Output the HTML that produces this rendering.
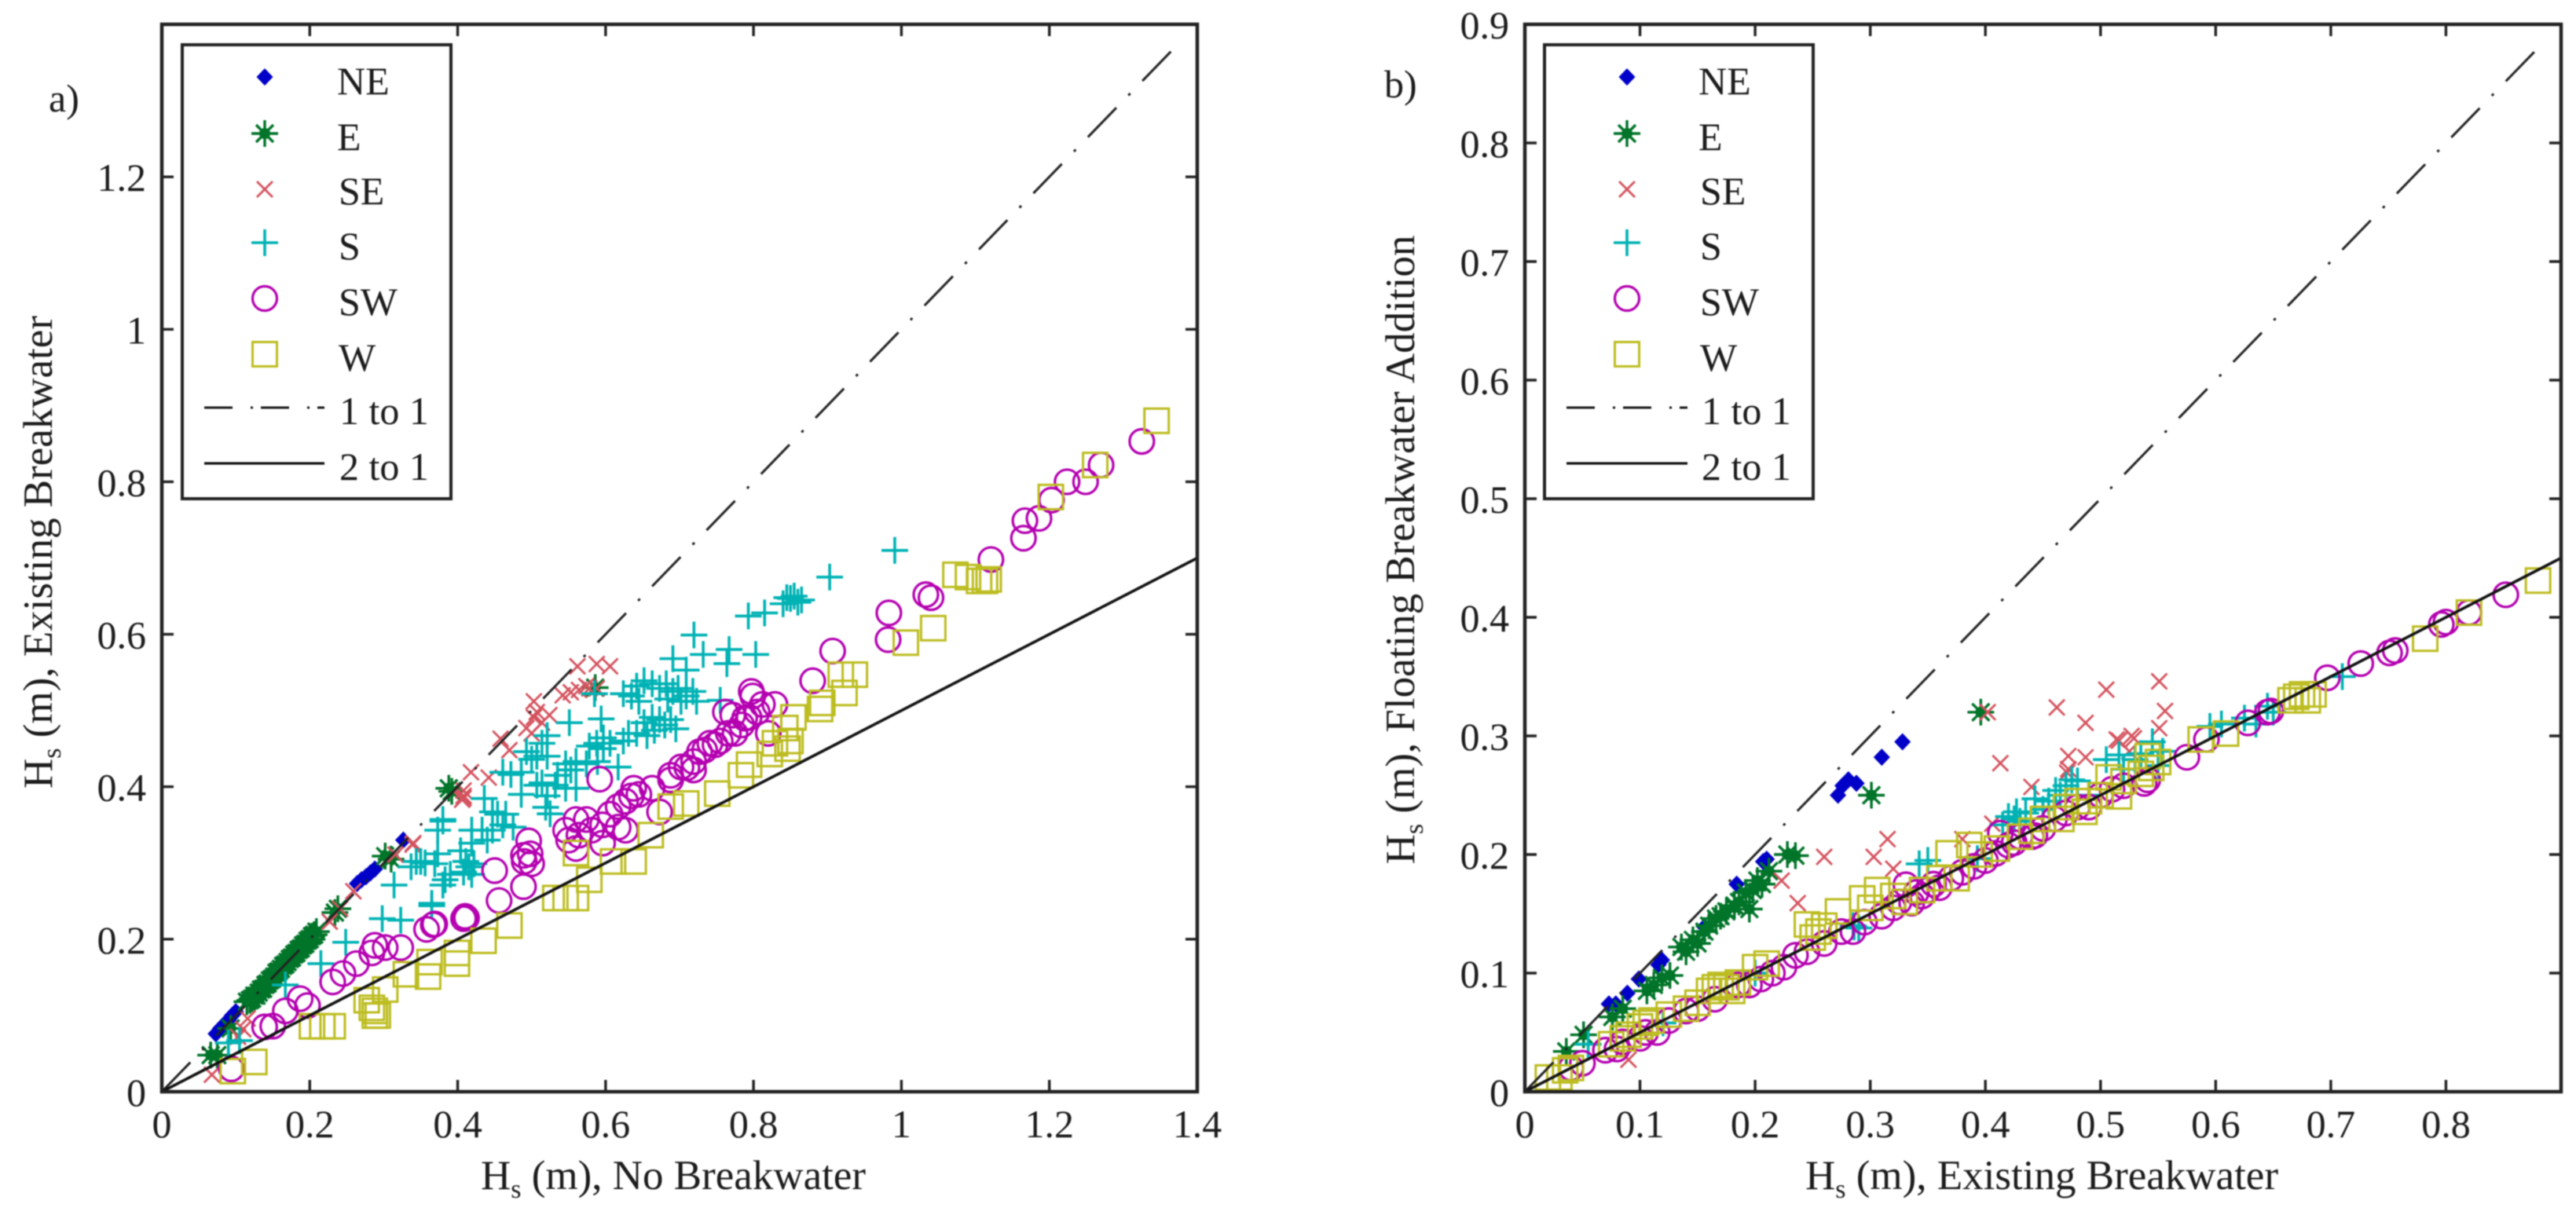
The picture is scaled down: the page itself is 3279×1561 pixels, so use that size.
<!DOCTYPE html>
<html lang="en">
<head>
<meta charset="utf-8">
<title>Significant wave height scatter comparison</title>
<style>
html,body{margin:0;padding:0;background:#fff;width:3279px;height:1561px;overflow:hidden}
svg{display:block;filter:blur(0.9px)}
text{font-family:"Liberation Serif",serif;fill:#1c1c1c}
.tick{font-size:50px}
.title{font-size:53px}
.leg{font-size:50px}
.sub{font-size:34px}
</style>
</head>
<body>
<svg id="chart" width="3279" height="1561" viewBox="0 0 3279 1561" xmlns="http://www.w3.org/2000/svg">
  <rect width="3279" height="1561" fill="#fff"/>

  <g id="panelA"></g>
  <g id="panelB"></g>

  <text class="leg" x="62" y="142">a)</text>
  <text class="leg" x="1762" y="124">b)</text>

  <text class="title" x="857" y="1514" text-anchor="middle">H<tspan class="sub" dy="11">s</tspan><tspan dy="-11"> (m), No Breakwater</tspan></text>
  <text class="title" transform="translate(66,703) rotate(-90)" text-anchor="middle">H<tspan class="sub" dy="11">s</tspan><tspan dy="-11"> (m), Existing Breakwater</tspan></text>
  <text class="title" x="2599" y="1514" text-anchor="middle">H<tspan class="sub" dy="11">s</tspan><tspan dy="-11"> (m), Existing Breakwater</tspan></text>
  <text class="title" transform="translate(1800,700) rotate(-90)" text-anchor="middle">H<tspan class="sub" dy="11">s</tspan><tspan dy="-11"> (m), Floating Breakwater Addition</tspan></text>

  <g id="legendA">
    <rect x="232" y="57" width="342" height="578" fill="#fff" stroke="#222" stroke-width="4"/>
    <text class="leg" x="429" y="120">NE</text>
    <text class="leg" x="429" y="191">E</text>
    <text class="leg" x="431" y="260">SE</text>
    <text class="leg" x="431" y="330">S</text>
    <text class="leg" x="431" y="401">SW</text>
    <text class="leg" x="431" y="472">W</text>
    <text class="leg" x="432" y="540" xml:space="preserve">1 to 1</text>
    <text class="leg" x="432" y="611" xml:space="preserve">2 to 1</text>
  </g>
  <g id="legendB">
    <rect x="1966" y="57" width="342" height="578" fill="#fff" stroke="#222" stroke-width="4"/>
    <text class="leg" x="2162" y="120">NE</text>
    <text class="leg" x="2162" y="191">E</text>
    <text class="leg" x="2164" y="260">SE</text>
    <text class="leg" x="2164" y="330">S</text>
    <text class="leg" x="2164" y="401">SW</text>
    <text class="leg" x="2164" y="472">W</text>
    <text class="leg" x="2166" y="540" xml:space="preserve">1 to 1</text>
    <text class="leg" x="2166" y="611" xml:space="preserve">2 to 1</text>
  </g>
</svg>
<script>
/* ---------- shared tick labels ---------- */
const aXTicks = ["0","0.2","0.4","0.6","0.8","1","1.2","1.4"];
const aYTicks = ["0","0.2","0.4","0.6","0.8","1","1.2"];
const aYTickExtra = [1.4];
const bXTicks = ["0","0.1","0.2","0.3","0.4","0.5","0.6","0.7","0.8"];
const bYTicks = ["0","0.1","0.2","0.3","0.4","0.5","0.6","0.7","0.8","0.9"];

/* ---------- panel a series: [Hs no breakwater, Hs existing] ---------- */
const aNE = [[0.073,0.076],[0.079,0.083],[0.085,0.089],[0.09,0.094],[0.095,0.1],[0.1,0.105],[0.264,0.273],[0.27,0.278],[0.276,0.282],[0.282,0.287],[0.288,0.292],[0.3265,0.33]];
const aE = [[0.066,0.048],[0.075,0.048],[0.093,0.083],[0.115,0.118],[0.119,0.12],[0.122,0.122],[0.125,0.126],[0.128,0.126],[0.131,0.13],[0.134,0.134],[0.137,0.135],[0.14,0.14],[0.143,0.142],[0.146,0.146],[0.149,0.148],[0.152,0.151],[0.155,0.156],[0.158,0.158],[0.161,0.161],[0.164,0.165],[0.167,0.167],[0.17,0.17],[0.173,0.174],[0.176,0.176],[0.179,0.18],[0.182,0.182],[0.185,0.186],[0.188,0.188],[0.191,0.192],[0.194,0.194],[0.197,0.198],[0.2,0.2],[0.203,0.204],[0.206,0.206],[0.209,0.21],[0.234,0.235],[0.238,0.24],[0.302,0.309],[0.31,0.305],[0.388,0.398],[0.392,0.394],[0.586,0.53]];
const aSE = [[0.0677,0.0223],[0.103,0.072],[0.11,0.082],[0.116,0.096],[0.227,0.223],[0.241,0.24],[0.259,0.263],[0.316,0.311],[0.339,0.324],[0.34,0.326],[0.406,0.383],[0.408,0.385],[0.408,0.388],[0.408,0.395],[0.418,0.419],[0.442,0.412],[0.458,0.463],[0.47,0.448],[0.493,0.477],[0.5,0.47],[0.503,0.491],[0.503,0.512],[0.507,0.498],[0.514,0.484],[0.524,0.494],[0.542,0.52],[0.553,0.524],[0.562,0.558],[0.564,0.527],[0.574,0.532],[0.578,0.529],[0.588,0.529],[0.588,0.561],[0.606,0.558]];
const aS = [[0.09,0.064],[0.105,0.067],[0.167,0.14],[0.215,0.168],[0.2486,0.196],[0.298,0.227],[0.323,0.225],[0.314,0.271],[0.337,0.295],[0.344,0.302],[0.35,0.302],[0.356,0.3],[0.365,0.244],[0.365,0.247],[0.369,0.299],[0.373,0.312],[0.373,0.343],[0.38,0.271],[0.38,0.355],[0.38,0.357],[0.39,0.285],[0.383,0.278],[0.408,0.288],[0.419,0.285],[0.404,0.316],[0.411,0.302],[0.415,0.295],[0.419,0.326],[0.419,0.343],[0.422,0.299],[0.433,0.343],[0.436,0.3846],[0.44,0.33],[0.447,0.343],[0.447,0.367],[0.454,0.364],[0.461,0.35],[0.461,0.419],[0.465,0.364],[0.472,0.416],[0.475,0.347],[0.486,0.419],[0.486,0.39],[0.493,0.446],[0.5,0.436],[0.507,0.44],[0.514,0.457],[0.521,0.467],[0.521,0.44],[0.507,0.402],[0.514,0.405],[0.521,0.388],[0.519,0.373],[0.525,0.3645],[0.532,0.402],[0.535,0.415],[0.546,0.398],[0.546,0.43],[0.553,0.422],[0.56,0.433],[0.56,0.398],[0.551,0.484],[0.574,0.43],[0.578,0.4533],[0.585,0.522],[0.588,0.457],[0.589,0.433],[0.594,0.489],[0.597,0.464],[0.597,0.45],[0.606,0.457],[0.617,0.4258],[0.624,0.46],[0.624,0.522],[0.631,0.47],[0.635,0.519],[0.642,0.532],[0.642,0.47],[0.645,0.512],[0.652,0.539],[0.652,0.484],[0.656,0.467],[0.663,0.535],[0.663,0.491],[0.666,0.474],[0.673,0.529],[0.673,0.488],[0.68,0.481],[0.682,0.535],[0.684,0.515],[0.688,0.488],[0.691,0.525],[0.691,0.568],[0.695,0.476],[0.698,0.529],[0.702,0.512],[0.709,0.519],[0.709,0.553],[0.718,0.525],[0.7195,0.599],[0.723,0.512],[0.732,0.5735],[0.755,0.5134],[0.764,0.5615],[0.767,0.58],[0.803,0.5735],[0.793,0.624],[0.815,0.628],[0.84,0.64],[0.845,0.648],[0.85,0.647],[0.855,0.65],[0.86,0.642],[0.865,0.645],[0.903,0.675],[0.991,0.71]];
const aSW = [[0.094,0.03],[0.139,0.085],[0.15,0.086],[0.167,0.106],[0.187,0.122],[0.197,0.113],[0.231,0.144],[0.245,0.155],[0.263,0.168],[0.284,0.182],[0.288,0.192],[0.302,0.189],[0.323,0.189],[0.358,0.213],[0.367,0.219],[0.369,0.22],[0.408,0.227],[0.41,0.23],[0.412,0.228],[0.45,0.29],[0.456,0.2508],[0.489,0.269],[0.489,0.31],[0.49,0.302],[0.496,0.329],[0.498,0.312],[0.5,0.299],[0.546,0.343],[0.55,0.33],[0.56,0.357],[0.56,0.319],[0.564,0.3365],[0.574,0.357],[0.581,0.343],[0.592,0.41],[0.596,0.35],[0.596,0.326],[0.606,0.364],[0.617,0.374],[0.617,0.347],[0.627,0.381],[0.627,0.343],[0.635,0.388],[0.638,0.398],[0.645,0.39],[0.663,0.398],[0.673,0.367],[0.688,0.415],[0.688,0.409],[0.702,0.426],[0.71,0.425],[0.719,0.433],[0.719,0.422],[0.727,0.446],[0.734,0.448],[0.741,0.457],[0.748,0.455],[0.755,0.46],[0.762,0.498],[0.766,0.47],[0.772,0.494],[0.775,0.47],[0.784,0.481],[0.788,0.49],[0.794,0.491],[0.797,0.525],[0.799,0.519],[0.805,0.498],[0.812,0.508],[0.829,0.508],[0.82,0.47],[0.88,0.539],[0.907,0.578],[0.982,0.593],[0.983,0.628],[1.033,0.652],[1.04,0.648],[1.121,0.698],[1.165,0.726],[1.167,0.749],[1.186,0.752],[1.203,0.776],[1.224,0.8],[1.249,0.8],[1.27,0.822],[1.325,0.853]];
const aW = [[0.096,0.027],[0.125,0.039],[0.203,0.0858],[0.217,0.0858],[0.231,0.0858],[0.277,0.12],[0.284,0.11],[0.288,0.106],[0.288,0.0997],[0.292,0.1],[0.302,0.134],[0.33,0.154],[0.36,0.151],[0.362,0.17],[0.399,0.168],[0.399,0.182],[0.435,0.198],[0.47,0.218],[0.532,0.254],[0.546,0.254],[0.56,0.254],[0.56,0.313],[0.578,0.278],[0.61,0.302],[0.638,0.302],[0.661,0.3365],[0.688,0.374],[0.709,0.378],[0.751,0.391],[0.783,0.415],[0.794,0.429],[0.822,0.443],[0.829,0.457],[0.843,0.477],[0.846,0.45],[0.85,0.46],[0.854,0.491],[0.89,0.502],[0.893,0.51],[0.918,0.547],[0.937,0.547],[0.923,0.523],[1.006,0.589],[1.043,0.608],[1.073,0.678],[1.09,0.675],[1.105,0.67],[1.113,0.67],[1.118,0.672],[1.202,0.78],[1.262,0.822],[1.345,0.88]];

/* ---------- panel b series: [Hs existing, Hs floating addition] ---------- */
const bNE = [[0.073,0.074],[0.079,0.074],[0.089,0.083],[0.099,0.095],[0.116,0.107],[0.119,0.111],[0.156,0.139],[0.184,0.175],[0.207,0.194],[0.21,0.196],[0.272,0.25],[0.276,0.258],[0.281,0.263],[0.288,0.26],[0.31,0.282],[0.328,0.295]];
const bE = [[0.036,0.034],[0.051,0.048],[0.076,0.063],[0.085,0.07],[0.106,0.085],[0.112,0.09],[0.119,0.096],[0.126,0.098],[0.136,0.122],[0.14,0.118],[0.146,0.128],[0.15,0.125],[0.156,0.135],[0.16,0.14],[0.166,0.146],[0.17,0.148],[0.175,0.152],[0.182,0.157],[0.186,0.16],[0.195,0.154],[0.192,0.168],[0.198,0.17],[0.202,0.178],[0.206,0.175],[0.212,0.186],[0.228,0.2],[0.235,0.199],[0.301,0.25],[0.396,0.32]];
const bSE = [[0.09,0.027],[0.223,0.178],[0.237,0.159],[0.26,0.198],[0.303,0.198],[0.315,0.213],[0.32,0.188],[0.38,0.213],[0.402,0.32],[0.406,0.226],[0.413,0.277],[0.44,0.257],[0.462,0.324],[0.471,0.269],[0.472,0.272],[0.472,0.283],[0.487,0.311],[0.487,0.282],[0.505,0.339],[0.514,0.297],[0.516,0.296],[0.525,0.287],[0.527,0.3],[0.529,0.298],[0.551,0.346],[0.556,0.321],[0.551,0.3065]];
const bS = [[0.055,0.04],[0.12,0.058],[0.2,0.1],[0.285,0.14],[0.286,0.139],[0.29,0.138],[0.3425,0.1921],[0.35,0.195],[0.393,0.1965],[0.415,0.225],[0.42,0.232],[0.425,0.23],[0.427,0.236],[0.43,0.228],[0.435,0.235],[0.443,0.247],[0.45,0.238],[0.455,0.245],[0.461,0.254],[0.465,0.25],[0.47,0.258],[0.475,0.263],[0.48,0.262],[0.49,0.25],[0.505,0.28],[0.516,0.284],[0.52,0.272],[0.53,0.28],[0.535,0.285],[0.545,0.295],[0.554,0.287],[0.55,0.275],[0.595,0.308],[0.605,0.31],[0.625,0.315],[0.635,0.31],[0.645,0.325],[0.65,0.32],[0.71,0.35]];
const bSW = [[0.04,0.02],[0.05,0.024],[0.07,0.035],[0.08,0.036],[0.085,0.042],[0.1,0.045],[0.105,0.05],[0.115,0.05],[0.125,0.06],[0.14,0.068],[0.15,0.07],[0.165,0.078],[0.185,0.09],[0.195,0.09],[0.205,0.095],[0.215,0.1],[0.225,0.105],[0.235,0.115],[0.245,0.118],[0.26,0.125],[0.275,0.135],[0.285,0.135],[0.295,0.143],[0.31,0.148],[0.32,0.155],[0.325,0.16],[0.331,0.1745],[0.336,0.159],[0.34,0.168],[0.345,0.165],[0.35,0.17],[0.355,0.175],[0.36,0.172],[0.37,0.18],[0.38,0.185],[0.39,0.19],[0.4,0.195],[0.409,0.201],[0.413,0.218],[0.42,0.208],[0.425,0.21],[0.43,0.215],[0.44,0.215],[0.443,0.216],[0.45,0.222],[0.46,0.23],[0.47,0.235],[0.48,0.24],[0.49,0.24],[0.5,0.25],[0.51,0.255],[0.52,0.258],[0.538,0.26],[0.541,0.263],[0.575,0.282],[0.592,0.297],[0.628,0.311],[0.645,0.32],[0.648,0.321],[0.697,0.349],[0.726,0.361],[0.751,0.37],[0.756,0.372],[0.796,0.394],[0.8,0.396],[0.82,0.404],[0.852,0.419]];
const bW = [[0.02,0.012],[0.03,0.012],[0.035,0.018],[0.04,0.02],[0.075,0.04],[0.085,0.045],[0.09,0.048],[0.1,0.055],[0.105,0.058],[0.11,0.06],[0.125,0.065],[0.14,0.07],[0.15,0.075],[0.16,0.085],[0.165,0.088],[0.17,0.09],[0.175,0.088],[0.18,0.085],[0.185,0.092],[0.2,0.105],[0.21,0.108],[0.245,0.141],[0.25,0.13],[0.255,0.135],[0.26,0.14],[0.272,0.152],[0.293,0.163],[0.3,0.155],[0.306,0.17],[0.32,0.165],[0.33,0.16],[0.345,0.17],[0.36,0.18],[0.368,0.201],[0.375,0.18],[0.386,0.208],[0.395,0.2],[0.41,0.205],[0.43,0.215],[0.44,0.22],[0.45,0.23],[0.466,0.23],[0.47,0.24],[0.48,0.245],[0.486,0.236],[0.49,0.245],[0.5,0.25],[0.507,0.265],[0.516,0.249],[0.52,0.262],[0.535,0.268],[0.541,0.283],[0.544,0.273],[0.55,0.278],[0.587,0.297],[0.609,0.302],[0.665,0.33],[0.67,0.333],[0.675,0.335],[0.68,0.33],[0.685,0.335],[0.782,0.382],[0.82,0.404],[0.88,0.431]];

/* ---------- legend key values ---------- */
const legendKeys = ["NE","E","SE","S","SW","W"];

/* ---------- drawing helpers ---------- */
const NS = "http://www.w3.org/2000/svg";
const COLORS = {NE:"#0000c8",E:"#007428",SE:"#d4525e",S:"#00b2b4",SW:"#b400b0",W:"#bcbc20"};

function el(tag, attrs, parent){
  const e = document.createElementNS(NS, tag);
  for (const k in attrs) e.setAttribute(k, attrs[k]);
  parent.appendChild(e);
  return e;
}

function marker(kind, cx, cy, parent){
  const c = COLORS[kind];
  let m;
  if (kind === "NE"){
    m = el("path",{d:`M${cx} ${cy-11}L${cx+10.5} ${cy}L${cx} ${cy+11}L${cx-10.5} ${cy}Z`,fill:c},parent);
  } else if (kind === "E"){
    m = el("g",{},parent);
    el("path",{d:`M${cx-17} ${cy}H${cx+17}M${cx} ${cy-17}V${cy+17}M${cx-11} ${cy-11}L${cx+11} ${cy+11}M${cx-11} ${cy+11}L${cx+11} ${cy-11}`,stroke:c,"stroke-width":3.4,fill:"none"},m);
    el("circle",{cx:cx,cy:cy,r:7,fill:c},m);
  } else if (kind === "SE"){
    m = el("path",{d:`M${cx-10} ${cy-10}L${cx+10} ${cy+10}M${cx-10} ${cy+10}L${cx+10} ${cy-10}`,stroke:c,"stroke-width":2.8,fill:"none"},parent);
  } else if (kind === "S"){
    m = el("path",{d:`M${cx-17} ${cy}H${cx+17}M${cx} ${cy-17}V${cy+17}`,stroke:c,"stroke-width":3.6,fill:"none"},parent);
  } else if (kind === "SW"){
    m = el("circle",{cx:cx,cy:cy,r:15.5,stroke:c,"stroke-width":3.2,fill:"none"},parent);
  } else {
    m = el("rect",{x:cx-15.5,y:cy-15.5,width:31,height:31,stroke:c,"stroke-width":3,fill:"none"},parent);
  }
  return m;
}

function drawPanel(root, prefix, geom, xMax, yMax, xTicks, yTicks, extraY, series){
  const sx = v => geom.left + (v / xMax) * (geom.right - geom.left);
  const sy = v => geom.bottom - (v / yMax) * (geom.bottom - geom.top);

  const clipId = prefix + "-clip";
  const defs = el("defs",{},root);
  const cp = el("clipPath",{id:clipId},defs);
  el("rect",{x:geom.left,y:geom.top,width:geom.right-geom.left,height:geom.bottom-geom.top},cp);

  const plot = el("g",{"clip-path":`url(#${clipId})`},root);
  
  

  for (const kind of legendKeys){
    const g = el("g",{},plot);
    
    
    for (const p of series[kind]){
      const m = marker(kind, sx(p[0]), sy(p[1]), g);
      
      
    }
  }

  const lim = Math.min(xMax, yMax) * 0.985;
  const one = el("line",{x1:sx(0),y1:sy(0),x2:sx(lim),y2:sy(lim),stroke:"#222","stroke-width":3,"stroke-dasharray":"52 22 3.4 22.2"},plot);
  
  
  const two = el("line",{x1:sx(0),y1:sy(0),x2:sx(xMax),y2:sy(xMax/2),stroke:"#111","stroke-width":3.6},plot);
  
  

  const frame = el("rect",{x:geom.left,y:geom.top,width:geom.right-geom.left,height:geom.bottom-geom.top,fill:"none",stroke:"#222","stroke-width":4.5},root);
  
  

  const TL = 15;
  xTicks.forEach(label => {
    const v = parseFloat(label);
    const t = el("path",{d:`M${sx(v)} ${geom.bottom}v${-TL}M${sx(v)} ${geom.top}v${TL}`,stroke:"#222","stroke-width":3.4,fill:"none"},root);
    
    
    const tx = el("text",{x:sx(v),y:geom.bottom+58,"text-anchor":"middle",class:"tick"},root);
    
    
    tx.textContent = label;
  });
  yTicks.forEach(label => {
    const v = parseFloat(label);
    const t = el("path",{d:`M${geom.left} ${sy(v)}h${TL}M${geom.right} ${sy(v)}h${-TL}`,stroke:"#222","stroke-width":3.4,fill:"none"},root);
    
    
    const tx = el("text",{x:geom.left-20,y:sy(v)+18,"text-anchor":"end",class:"tick"},root);
    
    
    tx.textContent = label;
  });
  extraY.forEach(v => {
    const t = el("path",{d:`M${geom.left} ${sy(v)}h${TL}M${geom.right} ${sy(v)}h${-TL}`,stroke:"#222","stroke-width":3.4,fill:"none"},root);
    
    
  });
}

function drawLegendKeys(legend, markerX, lineX1, lineX2){
  const rowY = [98,170,241,309,380,451];
  legendKeys.forEach((kind,i) => {
    const m = marker(kind, markerX, rowY[i], legend);
    
    
  });
  const a = el("line",{x1:lineX1,y1:519,x2:lineX2,y2:519,stroke:"#1a1a1a","stroke-width":3,"stroke-dasharray":"36 23 3 10"},legend);
  
  
  const b = el("line",{x1:lineX1,y1:590,x2:lineX2,y2:590,stroke:"#111","stroke-width":3.2},legend);
  
  
}

drawPanel(document.getElementById("panelA"),"a",{left:206,right:1524,top:31,bottom:1390},1.4,1.4,aXTicks,aYTicks,aYTickExtra,{NE:aNE,E:aE,SE:aSE,S:aS,SW:aSW,W:aW});
drawPanel(document.getElementById("panelB"),"b",{left:1941,right:3260,top:31,bottom:1390},0.9,0.9,bXTicks,bYTicks,[],{NE:bNE,E:bE,SE:bSE,S:bS,SW:bSW,W:bW});
drawLegendKeys(document.getElementById("legendA"),337,260,413);
drawLegendKeys(document.getElementById("legendB"),2071,1994,2148);
</script>
</body>
</html>
